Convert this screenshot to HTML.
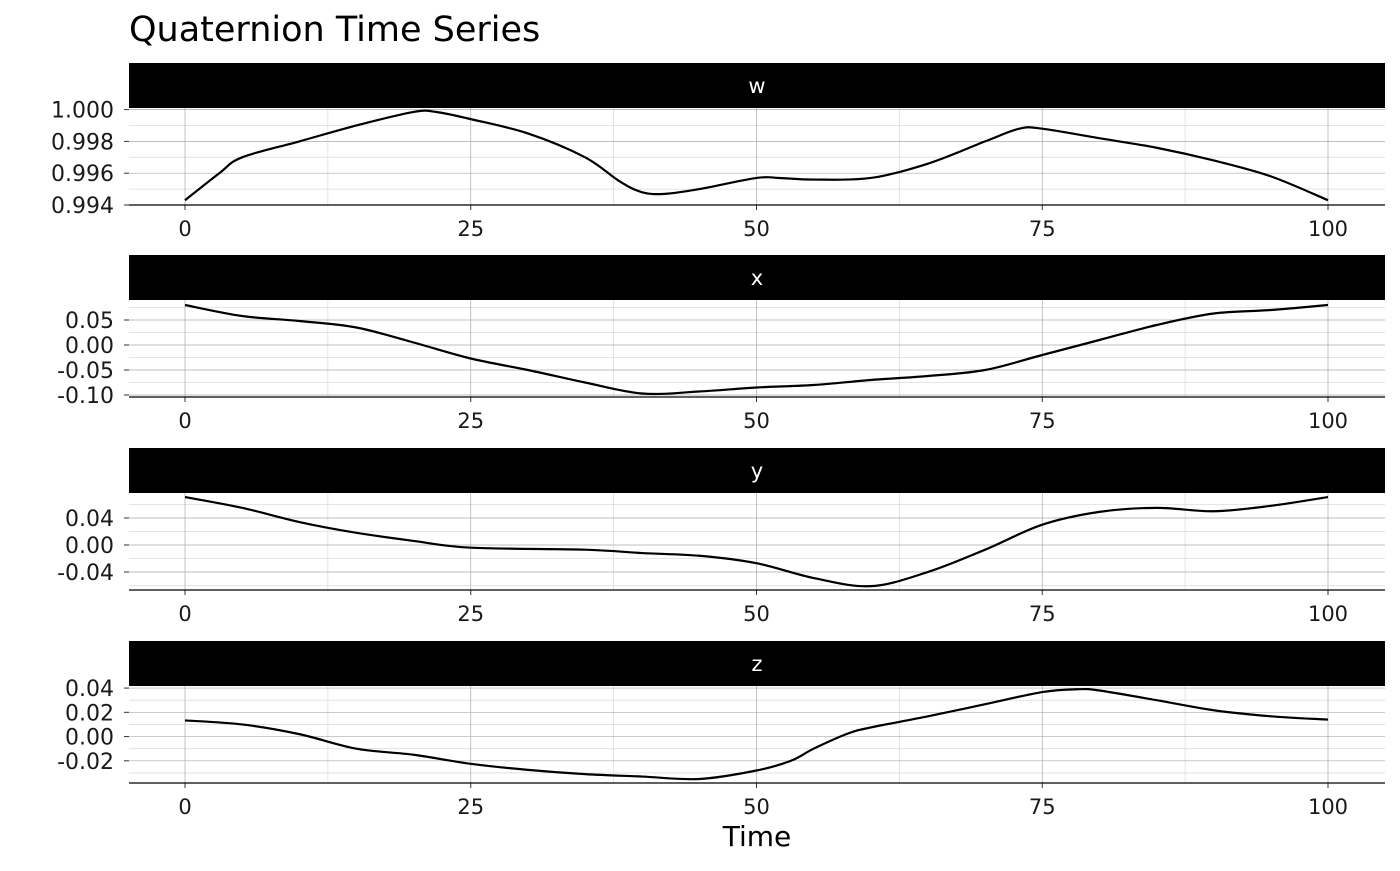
<!DOCTYPE html>
<html><head><meta charset="utf-8"><style>
body{margin:0;background:#fff;}
svg text{font-family:"DejaVu Sans","Liberation Sans",sans-serif;}
</style></head><body>
<svg id="c" width="1400" height="866" xmlns="http://www.w3.org/2000/svg">
<text x="129" y="41" font-size="35" fill="#000">Quaternion Time Series</text>
<text x="757" y="846" font-size="28" text-anchor="middle">Time</text>
</svg>
<script>
const panelNames=["w","x","y","z"];
const wT=[0,3,5,10,15,20,22,25,30,35,38,40,42,45,50,52,55,60,65,70,73,75,80,85,90,95,100];
const wV=[.9943,.9960,.9970,.9980,.9990,.99985,.99985,.9994,.9985,.9970,.9955,.9948,.9947,.9950,.9957,.9957,.9956,.9957,.9966,.9980,.9988,.9988,.9982,.9976,.9968,.9958,.9943];
const xT=[0,5,10,15,20,25,30,35,40,45,50,55,60,65,70,75,80,85,90,95,100];
const xV=[.08,.058,.048,.035,.005,-.027,-.050,-.075,-.097,-.093,-.085,-.080,-.070,-.062,-.05,-.02,.01,.04,.063,.07,.08];
const yT=[0,5,10,15,20,25,35,40,45,50,55,60,65,70,75,80,85,90,95,100];
const yV=[.071,.055,.034,.018,.006,-.004,-.007,-.012,-.016,-.027,-.049,-.061,-.040,-.007,.030,.049,.055,.050,.058,.071];
const zT=[0,5,10,15,20,25,30,35,40,45,50,53,55,58,60,65,70,75,78,80,85,90,95,100];
const zV=[.0133,.010,.002,-.010,-.015,-.0225,-.0275,-.031,-.033,-.035,-.028,-.020,-.010,.0025,.0075,.0167,.0267,.0367,.039,.038,.030,.0217,.0167,.014];
const xTicks=[0,25,50,75,100];
const wTicks=[0.994,0.996,0.998,1.000], wLabels=["0.994","0.996","0.998","1.000"];
const xTicksY=[-0.10,-0.05,0,0.05], xLabels=["-0.10","-0.05","0.00","0.05"];
const yTicksY=[-0.04,0,0.04], yLabels=["-0.04","0.00","0.04"];
const zTicksY=[-0.02,0,0.02,0.04], zLabels=["-0.02","0.00","0.02","0.04"];
const NS="http://www.w3.org/2000/svg";
const svg=document.getElementById("c");
function mk(t,a,p){const e=document.createElementNS(NS,t);for(const k in a)e.setAttribute(k,a[k]);(p||svg).appendChild(e);return e;}
const panels=[
 {top:108,lim:[0.994,1.0001],T:wT,V:wV,ty:wTicks,tl:wLabels},
 {top:300,lim:[-0.104,0.09],T:xT,V:xV,ty:xTicksY,tl:xLabels},
 {top:493,lim:[-0.0667,0.077],T:yT,V:yV,ty:yTicksY,tl:yLabels},
 {top:686,lim:[-0.0383,0.0417],T:zT,V:zV,ty:zTicksY,tl:zLabels}];
const L=129,R=1385,H=97;
const sx=v=>185+(v)*(1328-185)/100;
panels.forEach((p,i)=>{
 const g=mk("g",{});
 
 
 const sy=v=>p.top+H-(v-p.lim[0])/(p.lim[1]-p.lim[0])*H;
 const st=mk("rect",{x:L,y:p.top-45,width:R-L,height:45,fill:"#000"},g);
 
 
 const sl=mk("text",{x:(L+R)/2,y:p.top-15,fill:"#fff","font-size":"21","text-anchor":"middle"},g);
 sl.textContent=panelNames[i];
 
 
 for(let k=0;k<4;k++){const v=12.5+25*k;mk("line",{x1:sx(v),x2:sx(v),y1:p.top,y2:p.top+H,stroke:"#ddd","stroke-width":0.8},g);}
 for(let k=0;k<p.ty.length-1;k++){const v=(p.ty[k]+p.ty[k+1])/2;mk("line",{x1:L,x2:R,y1:sy(v),y2:sy(v),stroke:"#ddd","stroke-width":0.8},g);}
 if(p.ty[0]-(p.ty[1]-p.ty[0])/2>p.lim[0]){const v=p.ty[0]-(p.ty[1]-p.ty[0])/2;mk("line",{x1:L,x2:R,y1:sy(v),y2:sy(v),stroke:"#ddd","stroke-width":0.8},g);}
 const last=p.ty[p.ty.length-1],step=p.ty[1]-p.ty[0];
 if(last+step/2<p.lim[1]){mk("line",{x1:L,x2:R,y1:sy(last+step/2),y2:sy(last+step/2),stroke:"#ddd","stroke-width":0.8},g);}
 xTicks.forEach(v=>{mk("line",{x1:sx(v),x2:sx(v),y1:p.top,y2:p.top+H,stroke:"#aaa","stroke-width":0.7},g);
  mk("line",{x1:sx(v),x2:sx(v),y1:p.top+H,y2:p.top+H+5,stroke:"#333","stroke-width":1},g);
  const t=mk("text",{x:sx(v),y:p.top+H+31,"font-size":"21","text-anchor":"middle",fill:"#1a1a1a"},g);t.textContent=v;
  
  });
 p.ty.forEach((v,k)=>{mk("line",{x1:L,x2:R,y1:sy(v),y2:sy(v),stroke:"#aaa","stroke-width":0.7},g);
  mk("line",{x1:L-5,x2:L,y1:sy(v),y2:sy(v),stroke:"#333","stroke-width":1},g);
  const t=mk("text",{x:L-15,y:sy(v)+8,"font-size":"22","text-anchor":"end",fill:"#1a1a1a"},g);t.textContent=p.tl[k];
  
  });
 mk("line",{x1:L,x2:R,y1:p.top+H,y2:p.top+H,stroke:"#000","stroke-width":1.2},g);
 const pts=p.T.map((t,k)=>[sx(t),sy(p.V[k])]);
 let d="M"+pts[0][0]+","+pts[0][1];
 for(let k=0;k<pts.length-1;k++){const p0=pts[Math.max(0,k-1)],p1=pts[k],p2=pts[k+1],p3=pts[Math.min(pts.length-1,k+2)];
  d+=` C${p1[0]+(p2[0]-p0[0])/6},${p1[1]+(p2[1]-p0[1])/6} ${p2[0]-(p3[0]-p1[0])/6},${p2[1]-(p3[1]-p1[1])/6} ${p2[0]},${p2[1]}`;}
 const ln=mk("path",{d:d,fill:"none",stroke:"#000","stroke-width":2.2},g);
 
 
});
</script>
</body></html>
